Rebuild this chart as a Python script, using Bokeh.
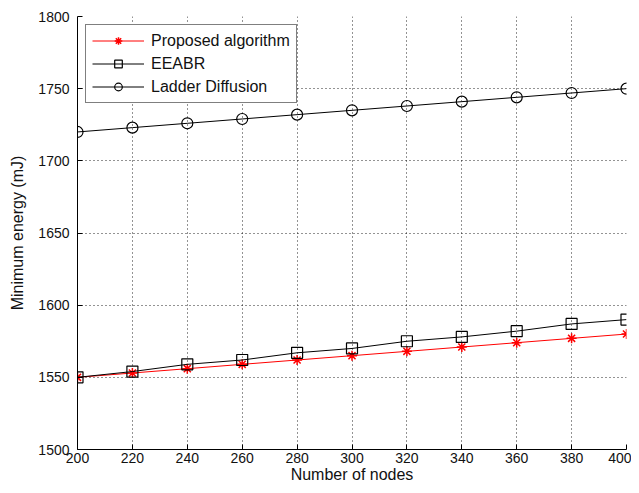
from bokeh.plotting import figure
from bokeh.models import Range1d, FixedTicker, Legend, LegendItem
from bokeh.embed import file_html
from bokeh.resources import INLINE

nodes = [200, 220, 240, 260, 280, 300, 320, 340, 360, 380, 400]
proposed = [1550, 1553, 1556, 1559, 1562, 1565, 1568, 1571, 1574, 1577, 1580]
eeabr = [1550, 1554, 1559, 1562, 1567, 1570, 1575, 1578, 1582, 1587, 1590]
ladder = [1720, 1723, 1726, 1729, 1732, 1735, 1738, 1741, 1744, 1747, 1750]
x_ticks = [200, 220, 240, 260, 280, 300, 320, 340, 360, 380, 400]
y_ticks = [1500, 1550, 1600, 1650, 1700, 1750, 1800]

FONT = "Liberation Sans"

p = figure(width=631, height=485, output_backend="svg", toolbar_location=None,
           x_range=Range1d(200, 400), y_range=Range1d(1500, 1800),
           min_border_left=77, min_border_right=5, min_border_top=16, min_border_bottom=36)
p.outline_line_color = None
p.background_fill_color = "white"
p.border_fill_color = "white"

for ax in [p.xaxis[0], p.yaxis[0]]:
    ax.major_tick_in = 5
    ax.major_tick_out = 0
    ax.minor_tick_in = 0
    ax.minor_tick_out = 0
    ax.axis_line_color = "black"
    ax.axis_line_width = 1
    ax.major_tick_line_color = "black"
    ax.major_label_text_font = FONT
    ax.major_label_text_font_size = "14px"
    ax.major_label_text_color = "#111111"
    ax.axis_label_text_font = FONT
    ax.axis_label_text_font_size = "16px"
    ax.axis_label_text_font_style = "normal"
    ax.axis_label_text_color = "#111111"

p.xaxis[0].ticker = FixedTicker(ticks=x_ticks)
p.yaxis[0].ticker = FixedTicker(ticks=y_ticks)
p.xaxis[0].axis_label = "Number of nodes"
p.yaxis[0].axis_label = "Minimum energy (mJ)"
p.xaxis[0].major_label_standoff = 3
p.yaxis[0].major_label_standoff = 8
p.xaxis[0].axis_label_standoff = 0
p.yaxis[0].axis_label_standoff = 9

p.xgrid.ticker = FixedTicker(ticks=x_ticks)
p.ygrid.ticker = FixedTicker(ticks=y_ticks)
for g in [p.xgrid[0], p.ygrid[0]]:
    g.grid_line_color = "black"
    g.grid_line_dash = "1 3"
    g.grid_line_width = 1
    g.grid_line_alpha = 0.85

r1l = p.line(nodes, proposed, line_color="red", line_width=1)
r1m = p.scatter(nodes, proposed, marker="asterisk", size=10, line_color="red", line_width=1.5)
r2l = p.line(nodes, eeabr, line_color="black", line_width=1)
r2m = p.scatter(nodes, eeabr, marker="square", size=11, line_color="black", fill_color=None, line_width=1.2)
r3l = p.line(nodes, ladder, line_color="black", line_width=1)
r3m = p.scatter(nodes, ladder, marker="circle", size=11, line_color="black", fill_color=None, line_width=1.2)

legend = Legend(items=[
    LegendItem(label="Proposed algorithm", renderers=[r1l, r1m]),
    LegendItem(label="EEABR", renderers=[r2l, r2m]),
    LegendItem(label="Ladder Diffusion", renderers=[r3l, r3m]),
], location="top_left")
legend.label_text_font = FONT
legend.label_text_font_size = "16px"
legend.label_text_color = "#111111"
legend.border_line_color = "black"
legend.border_line_width = 1
legend.background_fill_alpha = 1
legend.glyph_width = 52
legend.glyph_height = 19
legend.label_height = 19
legend.spacing = 4
legend.padding = 6
legend.margin = 8
legend.label_standoff = 7
p.add_layout(legend)

open("out.html", "w").write(file_html(p, INLINE))
